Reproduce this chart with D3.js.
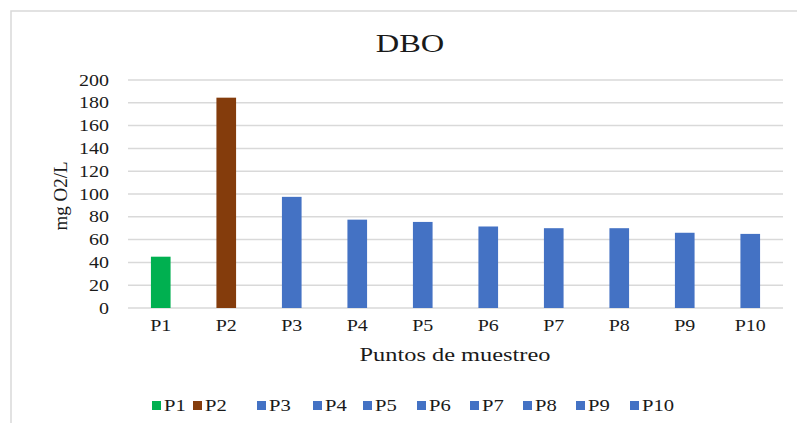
<!DOCTYPE html>
<html><head><meta charset="utf-8">
<script src="https://cdn.jsdelivr.net/npm/d3@7"></script>
<style>body{margin:0;background:#fff}svg{display:block}
text{font-family:"Liberation Serif","Times New Roman",serif;fill:#1a1a1a}
.sm{transform-box:fill-box;transform:scaleX(1.25);transform-origin:center}
.se{transform-box:fill-box;transform:scaleX(1.25);transform-origin:right}
.ss{transform-box:fill-box;transform:scaleX(1.25);transform-origin:left}
</style>
</head><body>
<script>
const categories = ["P1","P2","P3","P4","P5","P6","P7","P8","P9","P10"];
const values = [45, 184.5, 97.5, 77.5, 75.5, 71.5, 70, 70, 66, 65];
const colors = ["#00b050","#843c0c","#4472c4","#4472c4","#4472c4","#4472c4","#4472c4","#4472c4","#4472c4","#4472c4"];
const yTicks = [0,20,40,60,80,100,120,140,160,180,200];

const W=797,H=423;
const svg=d3.select("body").append("svg").attr("width",W).attr("height",H);
svg.append("rect").attr("x",11).attr("y",11).attr("width",W).attr("height",H).attr("fill","#fff").attr("stroke","#d9d9d9").attr("stroke-width",1.5);

const x=d3.scaleBand().domain(categories).range([128,783]).paddingInner(0.7).paddingOuter(0.35);
const y=d3.scaleLinear().domain([0,200]).range([308,80]);

const grid=svg.append("g");
grid.selectAll("line").data(yTicks).join("line")
  .attr("x1",128).attr("x2",783).attr("y1",d=>y(d)).attr("y2",d=>y(d))
  .attr("stroke","#d9d9d9").attr("stroke-width",1.5);

const yAxis=svg.append("g").attr("transform","translate(128,0)").call(d3.axisLeft(y).tickValues(yTicks).tickSize(0).tickPadding(19));
yAxis.select(".domain").remove();
yAxis.selectAll("text").attr("class","se").style("font-size","16px").style("font-family","Liberation Serif");

svg.append("g").selectAll("rect").data(values).join("rect")
  .attr("x",(d,i)=>x(categories[i])).attr("width",x.bandwidth())
  .attr("y",d=>y(d)).attr("height",d=>y(0)-y(d)).attr("fill",(d,i)=>colors[i]);

const xAxis=svg.append("g").attr("transform","translate(0,308)").call(d3.axisBottom(x).tickSize(0).tickPadding(12));
xAxis.select(".domain").remove();
xAxis.selectAll("text").attr("class","sm").style("font-size","16px").style("font-family","Liberation Serif");

svg.append("text").attr("class","sm").attr("x",410).attr("y",52).attr("text-anchor","middle").style("font-size","26px").text("DBO");
svg.append("text").attr("class","sm").attr("x",455).attr("y",361).attr("text-anchor","middle").style("font-size","19.5px").text("Puntos de muestreo");
svg.append("text").attr("transform","translate(67,196) rotate(-90)").attr("text-anchor","middle").style("font-size","19px").text("mg O2/L");

const legX=[152,193,257,313,363,417,470,523,576,630];
const leg=svg.append("g").selectAll("g").data(categories).join("g").attr("transform",(d,i)=>`translate(${legX[i]},0)`);
leg.append("rect").attr("x",0).attr("y",401).attr("width",9).attr("height",9).attr("fill",(d,i)=>colors[i]);
leg.append("text").attr("class","ss").attr("x",12).attr("y",411).style("font-size","16.5px").text(d=>d);
</script>
</body></html>
